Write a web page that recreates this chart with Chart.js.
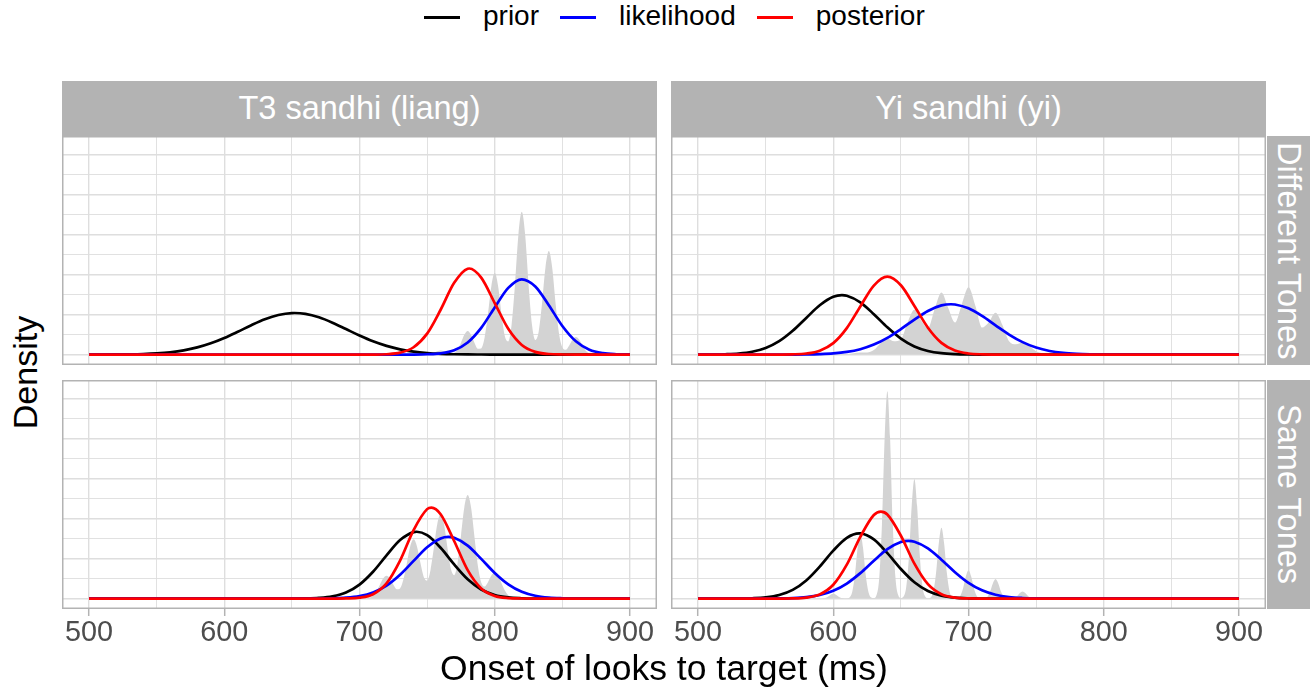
<!DOCTYPE html>
<html>
<head>
<meta charset="utf-8">
<script src="https://cdn.jsdelivr.net/npm/chart.js@4/dist/chart.umd.min.js"></script>
<style>
  html, body { margin: 0; padding: 0; background: #ffffff; }
  body { width: 1310px; height: 691px; position: relative; overflow: hidden;
         font-family: "Liberation Sans", Arial, Helvetica, sans-serif; }
  canvas { position: absolute; }
  .strip-top { position: absolute; background: #B3B3B3; color: #ffffff; font-size: 32.5px;
               display: flex; align-items: center; justify-content: center; white-space: nowrap; }
  .strip-right { position: absolute; background: #B3B3B3; color: #ffffff; font-size: 32.5px;
                 display: flex; align-items: center; justify-content: center; white-space: nowrap;
                 writing-mode: vertical-rl; }
  #legend { position: absolute; top: 0; left: 424px; height: 32px; display: flex; align-items: center;
            font-size: 28px; color: #000; white-space: nowrap; }
  #legend .key { display: inline-block; width: 36px; height: 3px; margin-top: 3px; margin-right: 23px; }
  #legend .lab { margin-right: 21px; }
  #xtitle { position: absolute; left: 0; width: 1328px; top: 651px; font-size: 35.5px; line-height: 35.5px;
            text-align: center; color: #000; white-space: nowrap; }
  #ytitle { position: absolute; width: 200px; height: 35px; line-height: 35px; font-size: 34px; color: #000;
            text-align: center; left: -74.8px; top: 355px; transform: rotate(-90deg); transform-origin: 100px 17.5px; }
</style>
</head>
<body>
<div id="legend">
  <span class="key" style="background:#000000"></span><span class="lab">prior</span>
  <span class="key" style="background:#0000FF"></span><span class="lab">likelihood</span>
  <span class="key" style="background:#FF0000"></span><span class="lab">posterior</span>
</div>

<div class="strip-top" style="left:62px; top:81px; width:595px; height:55px;">T3 sandhi (liang)</div>
<div class="strip-top" style="left:671px; top:81px; width:595px; height:55px;">Yi sandhi (yi)</div>
<div class="strip-right" style="left:1267px; top:136px; width:43px; height:229px;">Different Tones</div>
<div class="strip-right" style="left:1267px; top:380px; width:43px; height:229px;">Same Tones</div>

<canvas id="pTL" width="595" height="229" style="left:62px; top:136px;"></canvas>
<canvas id="pTR" width="595" height="229" style="left:671px; top:136px;"></canvas>
<canvas id="pBL" width="595" height="275" style="left:62px; top:380px;"></canvas>
<canvas id="pBR" width="595" height="275" style="left:671px; top:380px;"></canvas>

<div id="ytitle">Density</div>
<div id="xtitle">Onset of looks to target (ms)</div>

<script>
// ---------------- DATA (density values in units of 1e-3 per ms) ----------------
const xTicks = [500, 550, 600, 650, 700, 750, 800, 850, 900];
const yTicks = [0, 5, 10, 15, 20, 25, 30, 35, 40, 45, 50];

// onset grid (ms) on which the model curves are read
const onsetGrid = [500,510,520,530,540,550,560,570,580,590,600,610,620,630,640,650,660,670,680,690,
                   700,710,720,730,740,750,760,770,780,790,800,810,820,830,840,850,860,870,880,890,900];

// --- T3 sandhi (liang), Different Tones ---
const t3DiffPrior = [0,0.01,0.03,0.07,0.15,0.31,0.59,1.06,1.79,2.82,4.15,5.71,7.34,8.82,9.89,10.38,10.17,9.31,7.97,6.37,
                     4.76,3.32,2.17,1.32,0.75,0.40,0.20,0.09,0.04,0.02,0.01,0,0,0,0,0,0,0,0,0,0];
const t3DiffLik   = [0,0,0,0,0,0,0,0,0,0,0,0,0,0,0,0,0,0,0,0,0,0,0,0,
                     0.01,0.08,0.32,1.10,3.03,6.69,11.79,16.65,18.81,17.02,12.33,7.15,3.32,1.23,0.37,0.09,0.02];
const t3DiffPost  = [0,0,0,0,0,0,0,0,0,0,0,0,0,0,0,0,0,0,0,0,0,
                     0.01,0.09,0.48,1.83,5.23,11.20,17.92,21.46,19.21,12.87,6.45,2.42,0.68,0.14,0.02,0,0,0,0,0];
const t3DiffPeakX = [652, 820.5, 781.2];      // prior, likelihood, posterior modes
const t3DiffPeakY = [10.39, 18.82, 21.50];
const t3DiffObsStart = 730, t3DiffObsStep = 2.5;
const t3DiffObs = [0.02,0.06,0.15,0.25,0.30,0.25,0.15,0.07,0.08,0.21,0.49,0.84,1.00,0.84,0.50,0.27,0.41,1.21,2.90,4.94,
                   5.90,4.95,2.94,1.44,1.55,4.21,10.05,17.10,20.40,17.10,10.10,4.57,3.30,7.49,17.60,29.90,35.70,29.92,17.60,7.56,
                   3.62,5.69,12.80,21.70,25.90,21.70,12.75,5.31,1.78,1.20,2.21,3.69,4.40,3.69,2.16,0.89,0.26,0.05,0.01,0];

// --- Yi sandhi (yi), Different Tones ---
const yiDiffPrior = [0.01,0.02,0.09,0.26,0.71,1.65,3.35,5.94,9.16,12.31,14.42,14.70,13.05,10.09,6.80,3.99,2.04,0.91,0.35,0.12,
                     0.04,0.01,0,0,0,0,0,0,0,0,0,0,0,0,0,0,0,0,0,0,0];
const yiDiffLik   = [0,0,0,0,0,0,0,0.01,0.04,0.12,0.29,0.66,1.35,2.50,4.19,6.37,8.75,10.90,12.28,12.52,
                     11.57,9.67,7.32,5.01,3.11,1.75,0.89,0.41,0.17,0.06,0.02,0.01,0,0,0,0,0,0,0,0,0];
const yiDiffPost  = [0,0,0,0,0,0,0.01,0.06,0.27,0.98,2.87,6.62,12.03,17.24,19.46,17.32,12.15,6.72,2.93,1.01,
                     0.27,0.06,0.01,0,0,0,0,0,0,0,0,0,0,0,0,0,0,0,0,0,0];
const yiDiffPeakX = [606.4, 687, 640.1];
const yiDiffPeakY = [14.83, 12.58, 19.46];
const yiDiffObsStart = 600, yiDiffObsStep = 5;
const yiDiffObs = [0,0.02,0.13,0.35,0.52,0.53,1.12,2.85,4.05,3.32,3.76,8.02,11.18,8.52,6.60,11.38,15.51,11.62,7.99,12.48,
                   16.80,12.26,6.75,8.09,10.48,7.48,3.34,2.58,3.04,2.14,0.85,0.41,0.41,0.28,0.10,0.02,0];

// --- T3 sandhi (liang), Same Tones ---
const t3SamePrior = [0,0,0,0,0,0,0,0,0,0,0,0,0,0,0,
                     0.01,0.04,0.17,0.56,1.52,3.49,6.70,10.80,14.62,16.61,15.85,12.69,8.53,4.81,2.28,0.91,0.30,0.09,0.02,
                     0,0,0,0,0,0,0];
const t3SameLik   = [0,0,0,0,0,0,0,0,0,0,0,0,0,0,0,0,0,
                     0.02,0.07,0.22,0.62,1.53,3.25,5.96,9.41,12.82,15.03,15.19,13.22,9.92,6.41,3.57,1.71,0.71,0.25,0.08,0.02,0.01,
                     0,0,0];
const t3SamePost  = [0,0,0,0,0,0,0,0,0,0,0,0,0,0,0,0,0,0,0,
                     0.04,0.23,1.10,3.80,9.49,17.13,22.35,21.08,14.38,7.09,2.53,0.65,0.12,0.02,
                     0,0,0,0,0,0,0,0];
const t3SamePeakX = [742.3, 765.7, 753.2];
const t3SamePeakY = [16.69, 15.40, 22.72];
const t3SameObsStart = 685, t3SameObsStep = 2.5;
const t3SameObs = [0,0.01,0.02,0.06,0.12,0.18,0.20,0.19,0.17,0.28,0.73,1.78,3.39,5.00,5.70,5.03,3.52,2.34,2.55,4.81,
                   8.84,13.00,14.80,13.03,8.99,5.40,4.47,7.11,12.67,18.55,21.10,18.57,12.77,7.54,5.85,8.84,15.58,22.78,25.90,22.75,
                   15.45,8.28,4.03,3.02,4.10,5.75,6.50,5.71,3.86,2.03,0.85,0.34,0.24,0.27,0.30,0.26,0.18,0.09,0.04,0.01,0];

// --- Yi sandhi (yi), Same Tones ---
const yiSamePrior = [0,0,0,0.02,0.09,0.30,0.88,2.17,4.53,8.00,11.98,15.17,16.27,14.77,11.35,7.39,4.07,1.90,0.75,0.25,
                     0.07,0.02,0,0,0,0,0,0,0,0,0,0,0,0,0,0,0,0,0,0,0];
const yiSameLik   = [0,0,0,0,0,0.01,0.04,0.12,0.35,0.89,1.95,3.76,6.36,9.46,12.34,14.13,14.20,12.53,9.71,6.60,
                     3.94,2.06,0.95,0.38,0.14,0.04,0.01,0,0,0,0,0,0,0,0,0,0,0,0,0,0];
const yiSamePost  = [0,0,0,0,0,0,0.01,0.04,0.24,1.05,3.45,8.47,15.43,20.88,21.01,15.70,8.72,3.60,1.10,0.25,
                     0.04,0.01,0,0,0,0,0,0,0,0,0,0,0,0,0,0,0,0,0,0,0];
const yiSamePeakX = [619.2, 655.4, 635.2];
const yiSamePeakY = [16.28, 14.40, 21.74];
const yiSameObsStart = 590, yiSameObsStep = 2;
const yiSameObs = [0,0.02,0.12,0.43,0.93,1.20,0.93,0.43,0.12,0.02,0.03,0.28,1.65,5.90,12.71,16.40,12.71,5.90,1.65,0.28,
                   0.12,0.88,5.22,18.65,40.15,51.80,40.15,18.65,5.22,0.88,0.14,0.51,3.01,10.76,23.17,29.90,23.17,10.76,3.01,0.51,
                   0.08,0.30,1.78,6.37,13.72,17.70,13.72,6.37,1.78,0.30,0.04,0.12,0.71,2.56,5.50,7.10,5.50,2.56,0.71,0.12,
                   0.02,0.08,0.49,1.76,3.80,4.90,3.80,1.76,0.49,0.08,0.01,0.03,0.18,0.65,1.40,1.80,1.40,0.65,0.18,0.03,0];

// ---------------- helpers ----------------
function curvePoints(values, peakX, peakY) {
  const pts = onsetGrid.map((x, i) => ({ x: x, y: values[i] }));
  if (Math.abs(peakX - Math.round(peakX / 10) * 10) > 0.6) pts.push({ x: peakX, y: peakY });
  pts.sort((a, b) => a.x - b.x);
  return pts;
}
function obsPoints(values, start, step) {
  return values.map((v, i) => ({ x: start + i * step, y: v }));
}

const panelBorder = {
  id: 'panelBorder',
  afterDatasetsDraw(chart) {
    const { ctx, chartArea: a } = chart;
    ctx.save();
    ctx.strokeStyle = '#B3B3B3';
    ctx.lineWidth = 1.5;
    ctx.strokeRect(a.left + 0.75, a.top + 0.75, a.right - a.left - 1.5, a.bottom - a.top - 1.5);
    ctx.restore();
  }
};

const FONT = "'Liberation Sans', Arial, Helvetica, sans-serif";

function makePanel(id, prior, lik, post, peakX, peakY, obs, obsStart, obsStep, showX) {
  const lineDs = (label, pts, color) => ({
    label, data: pts, borderColor: color, borderWidth: 2.7, pointRadius: 0, fill: false,
    cubicInterpolationMode: 'monotone'
  });
  return new Chart(document.getElementById(id), {
    type: 'line',
    data: {
      datasets: [
        lineDs('posterior', curvePoints(post, peakX[2], peakY[2]), '#FF0000'),
        lineDs('likelihood', curvePoints(lik, peakX[1], peakY[1]), '#0000FF'),
        lineDs('prior', curvePoints(prior, peakX[0], peakY[0]), '#000000'),
        {
          label: 'observed', data: obsPoints(obs, obsStart, obsStep),
          borderWidth: 0, borderColor: 'rgba(0,0,0,0)', backgroundColor: '#D3D3D3',
          fill: 'origin', pointRadius: 0, cubicInterpolationMode: 'monotone'
        }
      ]
    },
    options: {
      responsive: false, animation: false, devicePixelRatio: 1,
      layout: { padding: 0 },
      plugins: { legend: { display: false }, tooltip: { enabled: false } },
      scales: {
        x: {
          type: 'linear', min: 480, max: 920,
          afterBuildTicks: s => { s.ticks = xTicks.map(v => ({ value: v })); },
          afterFit: s => { s.height = showX ? 46 : 0; },
          border: { display: false },
          grid: {
            color: '#DEDEDE',
            lineWidth: c => (c.tick && c.tick.value % 100 === 0) ? 1.4 : 0.9,
            drawTicks: showX, tickLength: 7,
            tickColor: c => (c.tick && c.tick.value % 100 === 0) ? '#B3B3B3' : 'rgba(0,0,0,0)',
            tickWidth: 1.5
          },
          ticks: {
            display: showX, autoSkip: false, maxRotation: 0, minRotation: 0, padding: 0,
            color: '#4D4D4D', font: { family: FONT, size: 28.8 },
            callback: v => (v % 100 === 0 ? String(v) : '')
          }
        },
        y: {
          type: 'linear', min: -2.6, max: 54.6,
          afterBuildTicks: s => { s.ticks = yTicks.map(v => ({ value: v })); },
          afterFit: s => { s.width = 0; },
          border: { display: false },
          grid: {
            color: '#DEDEDE',
            lineWidth: c => (c.tick && c.tick.value % 10 === 0) ? 1.4 : 0.9,
            drawTicks: false
          },
          ticks: { display: false }
        }
      }
    },
    plugins: [panelBorder]
  });
}

makePanel('pTL', t3DiffPrior, t3DiffLik, t3DiffPost, t3DiffPeakX, t3DiffPeakY, t3DiffObs, t3DiffObsStart, t3DiffObsStep, false);
makePanel('pTR', yiDiffPrior, yiDiffLik, yiDiffPost, yiDiffPeakX, yiDiffPeakY, yiDiffObs, yiDiffObsStart, yiDiffObsStep, false);
makePanel('pBL', t3SamePrior, t3SameLik, t3SamePost, t3SamePeakX, t3SamePeakY, t3SameObs, t3SameObsStart, t3SameObsStep, true);
makePanel('pBR', yiSamePrior, yiSameLik, yiSamePost, yiSamePeakX, yiSamePeakY, yiSameObs, yiSameObsStart, yiSameObsStep, true);
</script>
</body>
</html>
